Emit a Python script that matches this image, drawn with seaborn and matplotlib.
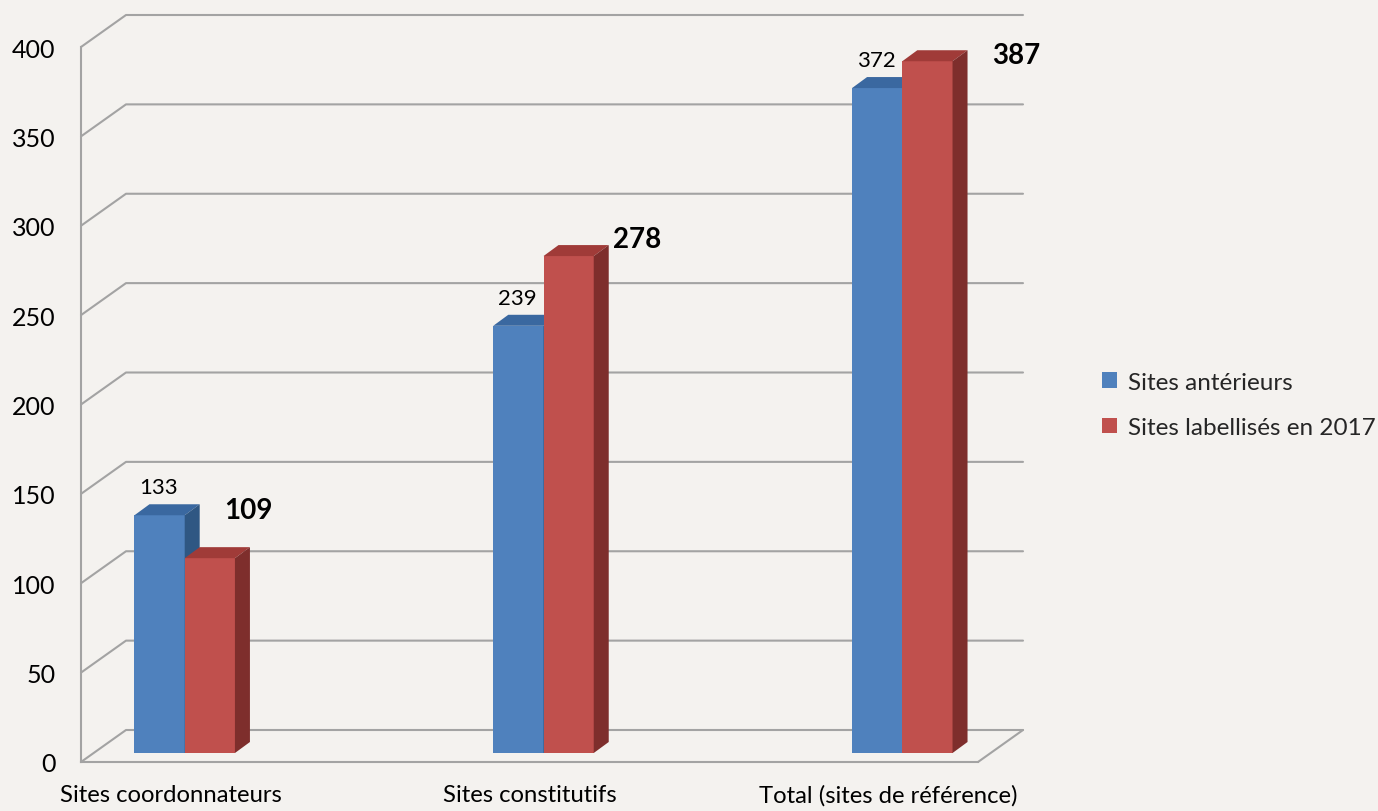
import numpy as np
import pandas as pd
import matplotlib
matplotlib.use("Agg")
import matplotlib.pyplot as plt
import matplotlib.colors as mcolors
import seaborn as sns
from matplotlib.patches import Polygon, Patch
from matplotlib.lines import Line2D
from matplotlib.transforms import offset_copy, IdentityTransform

# ---------------- data ----------------
categories = ["Sites coordonnateurs", "Sites constitutifs", "Total (sites de référence)"]
series = ["Sites antérieurs", "Sites labellisés en 2017"]
sites_anterieurs = [133, 239, 372]
sites_2017 = [109, 278, 387]
y_ticks = [0, 50, 100, 150, 200, 250, 300, 350, 400]

df = pd.DataFrame({
    "categorie": categories * 2,
    "serie": [series[0]] * len(categories) + [series[1]] * len(categories),
    "valeur": sites_anterieurs + sites_2017,
})

# ---------------- style ----------------
BG = "#F4F2EF"
GRID = "#A3A3A3"
FRONT = {series[0]: "#4F81BD", series[1]: "#C0504D"}
TOP = {series[0]: "#3A68A0", series[1]: "#A03B38"}
SIDE = {series[0]: "#2F5783", series[1]: "#7E2E2C"}

sns.set_style("white")
plt.rcParams["font.family"] = ["Lato", "DejaVu Sans"]

W, H = 1378, 812
fig = plt.figure(figsize=(W / 100, H / 100), dpi=100, facecolor=BG)
ax = fig.add_axes([81 / W, (H - 763) / H, (978 - 81) / W, (763 - 48) / H])
ax.set_facecolor("none")

WALL_DX, WALL_DY = 45, 32     # depth of the back wall (pixels)
BAR_DX, BAR_DY = 14, 9        # bar front plane offset
DEP_DX, DEP_DY = 15, 11       # bar depth

sns.barplot(data=df, x="categorie", y="valeur", hue="serie", palette=FRONT,
            width=0.28, saturation=1, errorbar=None, legend=False,
            edgecolor="none", linewidth=0, ax=ax)

ax.set_xlim(-0.25, 2.25)
ax.set_ylim(0, 400)
ax.set_xlabel("")
ax.set_ylabel("")

# ---------------- axes / walls ----------------
for s in ["top", "right"]:
    ax.spines[s].set_visible(False)
for s in ["left", "bottom"]:
    ax.spines[s].set_color(GRID)
    ax.spines[s].set_linewidth(1.5)

ax.set_yticks(y_ticks)
ax.tick_params(axis="y", length=6.5, width=1.5, color=GRID, labelsize=18,
               pad=12, labelcolor="black")
ax.set_xticks(np.arange(-0.25, 2.26, 0.5))
ax.set_xticklabels([])
ax.tick_params(axis="x", which="major", length=5.5, width=1.5, color=GRID)
ax.set_xticks(range(len(categories)), minor=True)
ax.set_xticklabels(categories, minor=True)
ax.tick_params(axis="x", which="minor", length=0, labelsize=17.2, pad=16,
               labelcolor="black")

x0, x1 = ax.get_xlim()
for v in y_ticks:
    pf = ax.transData.transform((x0, v))
    pb = pf + np.array([WALL_DX, WALL_DY])
    pe = ax.transData.transform((x1, v)) + np.array([WALL_DX, WALL_DY])
    ax.add_line(Line2D([pf[0], pb[0], pe[0]], [pf[1], pb[1], pe[1]],
                       transform=IdentityTransform(), color=GRID, lw=1.5,
                       zorder=1, clip_on=False))
# floor right edge
pf = ax.transData.transform((x1, 0))
ax.add_line(Line2D([pf[0], pf[0] + WALL_DX], [pf[1], pf[1] + WALL_DY],
                   transform=IdentityTransform(), color=GRID, lw=1.5,
                   zorder=1, clip_on=False))

# ---------------- 3D bars ----------------
bar_tr = offset_copy(ax.transData, fig=fig, x=BAR_DX, y=BAR_DY, units="dots")
hex_to_series = {mcolors.to_hex(c): s for s, c in FRONT.items()}
bars = []
for p in list(ax.patches):
    s = hex_to_series.get(mcolors.to_hex(p.get_facecolor()))
    if s is None:
        continue
    p.set_transform(bar_tr)
    z = 3 if s == series[0] else 4
    p.set_zorder(z)
    p.set_clip_on(False)
    bx, bw, bh = p.get_x(), p.get_width(), p.get_height()
    tr_ = bar_tr.transform((bx + bw, bh))
    tl = bar_tr.transform((bx, bh))
    br = bar_tr.transform((bx + bw, 0))
    d = np.array([DEP_DX, DEP_DY])
    top = Polygon([tl, tr_, tr_ + d, tl + d], closed=True, transform=IdentityTransform(),
                  facecolor=TOP[s], edgecolor="none", zorder=z, clip_on=False)
    side = Polygon([br, br + d, tr_ + d, tr_], closed=True, transform=IdentityTransform(),
                   facecolor=SIDE[s], edgecolor="none", zorder=z, clip_on=False)
    ax.add_patch(top)
    ax.add_patch(side)
    bars.append((s, bx, bw, bh))

# ---------------- data labels ----------------
red_offsets = [(13, 48), (43, 17), (64, 6)]
ri = 0
for s, bx, bw, bh in sorted(bars, key=lambda b: (b[0] != series[0], b[1])):
    if s == series[0]:
        ax.annotate(f"{int(round(bh))}", xy=(bx + bw / 2, bh), xycoords=bar_tr,
                    xytext=(-1, 28), textcoords="offset pixels", ha="center",
                    va="center", fontsize=16, color="black", zorder=6)
    else:
        ox, oy = red_offsets[ri]
        ri += 1
        ax.annotate(f"{int(round(bh))}", xy=(bx + bw, bh), xycoords=bar_tr,
                    xytext=(ox, oy), textcoords="offset pixels", ha="center",
                    va="center", fontsize=20, fontweight="bold", color="black",
                    zorder=6)

# ---------------- legend ----------------
handles = [Patch(facecolor=FRONT[s], edgecolor="none", label=s) for s in series]
fig.legend(handles=handles, loc="center left",
           bbox_to_anchor=(1102 / W, 1 - 406 / H), frameon=False,
           fontsize=17.5, handlelength=0.62, handleheight=0.62,
           handletextpad=0.45, labelspacing=1.0, borderpad=0,
           borderaxespad=0)

fig.savefig("out.png", dpi=100, facecolor=BG)
